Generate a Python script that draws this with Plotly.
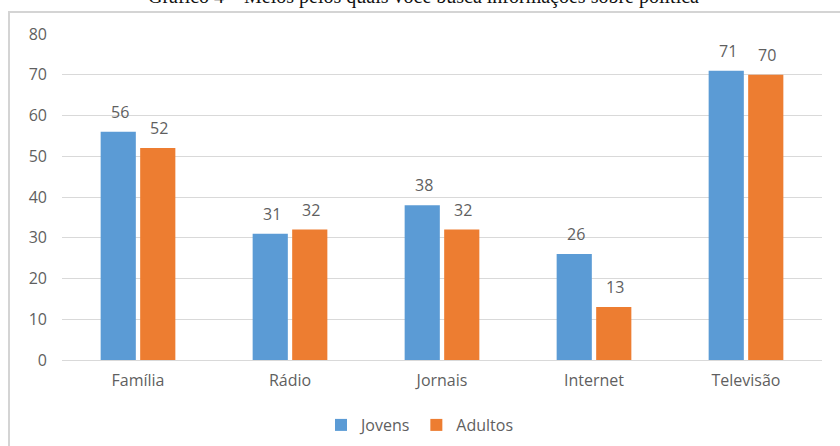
import plotly.graph_objects as go

categories = ["Família", "Rádio", "Jornais", "Internet", "Televisão"]
jovens = [56, 31, 38, 26, 71]
adultos = [52, 32, 32, 13, 70]
series_names = ["Jovens", "Adultos"]
title_text = "Gráfico 4 – Meios pelos quais você busca informações sobre política"

W, H = 840, 446
ML, MR, MT, MB = 62, 18, 34, 86
PW, PH = W - ML - MR, H - MT - MB

def px_x(x):
    return (x - ML) / PW

def px_y(y):
    return 1 - (y - MT) / PH

FONT = "Open Sans"
GRAY = "#5f5f5f"
BLUE, ORANGE = "#5B9BD5", "#ED7D31"

BARGAP, GROUPGAP = 0.48, 0.11
slot_px = PW / len(categories) * (1 - BARGAP) / 2

fig = go.Figure()
fig.add_trace(go.Bar(x=categories, y=jovens, name=series_names[0],
                     marker=dict(color=BLUE, line=dict(width=0))))
fig.add_trace(go.Bar(x=categories, y=adultos, name=series_names[1],
                     marker=dict(color=ORANGE, line=dict(width=0))))

annotations = []
for vals, sign in ((jovens, -1), (adultos, 1)):
    for c, v in zip(categories, vals):
        annotations.append(dict(
            x=c, y=v, xref="x", yref="y", text=str(v), showarrow=False,
            xanchor="center", yanchor="bottom", xshift=sign * slot_px / 2 + 1.5,
            yshift=7, font=dict(family=FONT, size=16, color=GRAY)))

annotations.append(dict(
    text=title_text, xref="paper", yref="paper",
    x=px_x(423), y=px_y(-4), xanchor="center", yanchor="middle",
    showarrow=False,
    font=dict(family="Liberation Serif", size=20, color="#111111")))

fig.update_layout(
    width=W, height=H,
    margin=dict(l=ML, r=MR, t=MT, b=MB, autoexpand=False),
    paper_bgcolor="white", plot_bgcolor="white",
    barmode="group", bargap=BARGAP, bargroupgap=GROUPGAP,
    font=dict(family=FONT, color=GRAY, size=16),
    showlegend=True,
    legend=dict(orientation="h", x=0.5, xanchor="center", xref="container",
                y=px_y(425), yanchor="middle",
                font=dict(family=FONT, size=16, color=GRAY),
                itemwidth=30, traceorder="normal"),
    xaxis=dict(showgrid=False, showline=True, linecolor="#D9D9D9", linewidth=1,
               ticks="", tickfont=dict(family=FONT, size=16, color=GRAY),
               ticklabelstandoff=6),
    yaxis=dict(range=[0, 80], dtick=10, showgrid=True, gridcolor="#D9D9D9",
               gridwidth=1, zeroline=False, showline=False, ticks="",
               tickfont=dict(family=FONT, size=16, color=GRAY),
               ticklabelstandoff=14),
    shapes=[dict(type="rect", xref="paper", yref="paper",
                 x0=px_x(9), x1=px_x(860), y0=px_y(12), y1=px_y(470),
                 line=dict(color="#D4D4D4", width=2), fillcolor="rgba(0,0,0,0)",
                 layer="below")],
    annotations=annotations,
)

fig.write_html(
    "out.html",
    config={"displayModeBar": False},
    post_script=("document.body.style.margin='0';"
                 "document.body.style.overflow='hidden';"
                 "document.documentElement.style.overflow='hidden';"),
)
